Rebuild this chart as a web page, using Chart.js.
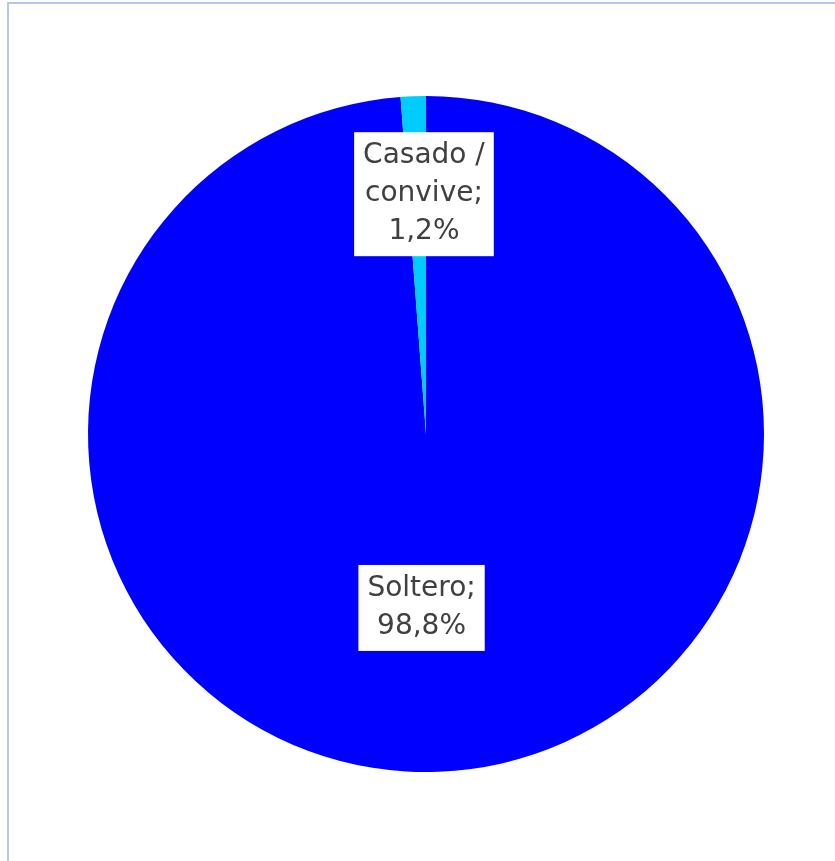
<!DOCTYPE html>
<html>
<head>
<meta charset="utf-8">
<script src="https://cdn.jsdelivr.net/npm/chart.js@4"></script>
<style>
  html, body { margin: 0; padding: 0; background: #fff; overflow: hidden; }
  #frame { position: absolute; left: 7px; top: 2px; width: 900px; height: 950px;
           border: 2px solid #b4c7e7; box-sizing: border-box; }
  #wrap { position: absolute; left: 0; top: 0; width: 835px; height: 861px; }
</style>
</head>
<body>
<div id="frame"></div>
<div id="wrap"><canvas id="myChart"></canvas></div>
<script>
var labels = ['Soltero', 'Casado / convive']
var values = [98.8, 1.2]
var colors = ['#0000ff', '#00ccff']

// label placement: fraction of radius + small x nudge, per slice
var labelPos = [
  { r: 0.515, dx: -11 },
  { r: 0.71, dx: 7 }
]

function fmt(v) {
  return v.toFixed(1).replace('.', ',') + '%'
}

var boxLabels = {
  id: 'boxLabels',
  afterDatasetsDraw: function(chart) {
    var c = chart.ctx
    var meta = chart.getDatasetMeta(0)
    c.save()
    c.font = '28px "DejaVu Sans"'
    c.textAlign = 'center'
    c.textBaseline = 'middle'
    meta.data.forEach(function(arc, i) {
      var mid = (arc.startAngle + arc.endAngle) / 2
      var p = labelPos[i]
      var x = arc.x + Math.cos(mid) * arc.outerRadius * p.r + p.dx
      var y = arc.y + Math.sin(mid) * arc.outerRadius * p.r
      var lines
      if (i == 1) lines = ['Casado /', 'convive;', fmt(values[i])]
      else lines = [labels[i] + ';', fmt(values[i])]
      var lh = 38
      var w = 0
      lines.forEach(function(l) { w = Math.max(w, c.measureText(l).width) })
      w += 18
      var h = lines.length * lh + 10
      c.fillStyle = '#ffffff'
      c.fillRect(x - w / 2, y - h / 2, w, h)
      c.fillStyle = '#404040'
      lines.forEach(function(l, k) {
        c.fillText(l, x, y - h / 2 + 5 + lh * k + lh / 2)
      })
    })
    c.restore()
  }
}

ctx = document.getElementById('myChart')
chart = new Chart(ctx, {
  type: 'pie',
  data: {
    labels: labels,
    datasets: [{
      data: values,
      backgroundColor: colors,
      borderWidth: 0
    }]
  },
  options: {
    responsive: true,
    maintainAspectRatio: false,
    animation: false,
    layout: { padding: { left: 88, right: 71, top: 96, bottom: 89 } },
    plugins: {
      legend: { display: false },
      tooltip: { enabled: false }
    }
  },
  plugins: [boxLabels]
})
</script>
</body>
</html>
